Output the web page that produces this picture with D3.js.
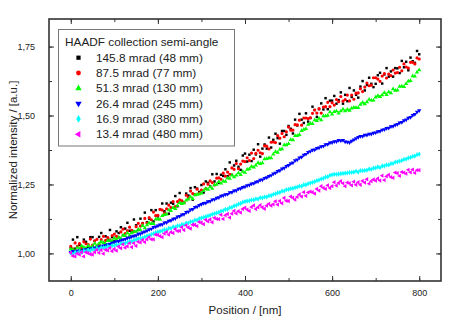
<!DOCTYPE html>
<html><head><meta charset="utf-8">
<script src="https://cdn.jsdelivr.net/npm/d3@7"></script>
<style>body{margin:0;background:#fff}svg{display:block;font-family:"Liberation Sans",Arial,sans-serif}</style>
</head><body>
<svg id="c" width="469" height="329"></svg>
<script>
const positions = d3.range(0, 805, 5);
const seriesNames = ["145.8 mrad (48 mm)","87.5 mrad (77 mm)","51.3 mrad (130 mm)","26.4 mrad (245 mm)","16.9 mrad (380 mm)","13.4 mrad (480 mm)"];
const seriesColors = ["#000000","#ff0000","#00ff00","#0000ff","#00ffff","#ff00ff"];
const xTicks = [0,200,400,600,800];
const yTicks = [1.00,1.25,1.50,1.75];

const black = [1.020,1.050,1.017,1.059,1.031,1.015,1.050,1.042,1.024,1.059,
1.059,1.045,1.025,1.060,1.074,1.038,1.062,1.048,1.085,1.059,
1.045,1.080,1.074,1.095,1.066,1.090,1.111,1.082,1.077,1.123,
1.102,1.085,1.126,1.109,1.148,1.113,1.126,1.157,1.116,1.157,
1.134,1.160,1.181,1.153,1.181,1.144,1.184,1.180,1.208,1.171,
1.219,1.190,1.184,1.217,1.210,1.237,1.195,1.240,1.235,1.223,
1.248,1.221,1.261,1.256,1.244,1.287,1.261,1.288,1.256,1.285,
1.281,1.305,1.280,1.330,1.285,1.319,1.336,1.314,1.303,1.355,
1.362,1.333,1.358,1.335,1.376,1.359,1.396,1.351,1.380,1.395,
1.380,1.420,1.384,1.412,1.434,1.418,1.398,1.444,1.444,1.430,
1.462,1.452,1.435,1.485,1.464,1.506,1.485,1.473,1.508,1.478,
1.491,1.532,1.520,1.495,1.523,1.544,1.522,1.563,1.523,1.554,
1.554,1.571,1.543,1.556,1.584,1.543,1.575,1.552,1.600,1.567,
1.591,1.575,1.565,1.605,1.625,1.591,1.611,1.637,1.615,1.603,
1.615,1.646,1.655,1.616,1.649,1.672,1.641,1.660,1.641,1.672,
1.671,1.654,1.698,1.675,1.695,1.664,1.710,1.697,1.691,1.734,
1.722];
const red = [1.026,1.017,1.038,1.026,1.036,1.020,1.042,1.035,1.032,1.052,
1.030,1.046,1.051,1.033,1.050,1.062,1.047,1.057,1.049,1.065,
1.070,1.062,1.058,1.078,1.088,1.072,1.082,1.095,1.084,1.079,
1.097,1.109,1.099,1.109,1.127,1.110,1.130,1.122,1.150,1.137,
1.138,1.160,1.157,1.146,1.162,1.175,1.166,1.188,1.170,1.188,
1.194,1.191,1.184,1.211,1.203,1.226,1.217,1.213,1.233,1.219,
1.230,1.252,1.235,1.251,1.263,1.257,1.248,1.273,1.274,1.269,
1.291,1.280,1.295,1.287,1.310,1.305,1.326,1.307,1.324,1.335,
1.333,1.347,1.337,1.364,1.344,1.363,1.374,1.365,1.362,1.390,
1.389,1.379,1.403,1.404,1.402,1.427,1.418,1.435,1.423,1.441,
1.458,1.447,1.447,1.467,1.466,1.483,1.465,1.491,1.491,1.489,
1.492,1.508,1.520,1.509,1.525,1.509,1.531,1.532,1.548,1.532,
1.546,1.538,1.558,1.550,1.569,1.552,1.558,1.574,1.553,1.574,
1.559,1.581,1.582,1.597,1.587,1.603,1.618,1.608,1.610,1.637,
1.637,1.632,1.624,1.643,1.652,1.636,1.650,1.645,1.665,1.654,
1.656,1.675,1.662,1.687,1.676,1.672,1.693,1.693,1.687,1.709,
1.705];
const green = [1.015,1.013,1.009,1.021,1.016,1.027,1.022,1.019,1.028,1.021,
1.026,1.036,1.028,1.036,1.042,1.039,1.034,1.046,1.047,1.045,
1.055,1.050,1.058,1.054,1.066,1.064,1.074,1.065,1.074,1.079,
1.079,1.087,1.085,1.100,1.092,1.103,1.110,1.108,1.108,1.124,
1.125,1.123,1.137,1.140,1.142,1.157,1.155,1.166,1.162,1.174,
1.184,1.180,1.183,1.193,1.196,1.205,1.198,1.212,1.214,1.215,
1.218,1.227,1.235,1.232,1.241,1.235,1.248,1.250,1.260,1.254,
1.262,1.261,1.273,1.272,1.283,1.277,1.283,1.292,1.285,1.297,
1.293,1.304,1.306,1.315,1.312,1.320,1.329,1.325,1.328,1.342,
1.343,1.346,1.346,1.360,1.369,1.366,1.377,1.379,1.393,1.393,
1.398,1.412,1.411,1.427,1.427,1.430,1.445,1.449,1.452,1.467,
1.471,1.470,1.484,1.481,1.489,1.484,1.498,1.498,1.500,1.513,
1.505,1.514,1.516,1.508,1.516,1.523,1.516,1.522,1.518,1.526,
1.529,1.528,1.528,1.540,1.547,1.542,1.549,1.558,1.555,1.555,
1.566,1.572,1.568,1.574,1.583,1.575,1.585,1.582,1.596,1.591,
1.592,1.605,1.606,1.604,1.615,1.624,1.626,1.643,1.642,1.657,
1.665];
const blue = [1.004,1.008,1.005,1.009,1.010,1.008,1.013,1.014,1.012,1.017,
1.018,1.021,1.019,1.024,1.025,1.028,1.029,1.032,1.034,1.038,
1.040,1.043,1.044,1.047,1.050,1.051,1.056,1.057,1.061,1.063,
1.065,1.070,1.071,1.076,1.079,1.082,1.087,1.089,1.095,1.097,
1.100,1.104,1.105,1.111,1.112,1.118,1.119,1.125,1.127,1.133,
1.135,1.140,1.142,1.149,1.151,1.158,1.160,1.167,1.169,1.175,
1.178,1.182,1.183,1.188,1.189,1.195,1.196,1.201,1.203,1.208,
1.210,1.214,1.215,1.221,1.222,1.227,1.228,1.234,1.235,1.240,
1.242,1.246,1.248,1.253,1.254,1.259,1.261,1.266,1.267,1.273,
1.275,1.280,1.283,1.289,1.292,1.298,1.301,1.307,1.310,1.316,
1.320,1.326,1.329,1.337,1.340,1.347,1.350,1.357,1.360,1.367,
1.370,1.375,1.376,1.381,1.383,1.388,1.389,1.395,1.396,1.401,
1.402,1.406,1.406,1.410,1.409,1.410,1.405,1.404,1.402,1.408,
1.412,1.417,1.421,1.425,1.425,1.429,1.429,1.433,1.433,1.437,
1.438,1.442,1.443,1.448,1.449,1.454,1.455,1.460,1.461,1.466,
1.468,1.474,1.476,1.482,1.485,1.491,1.494,1.501,1.505,1.513,
1.518];
const cyan = [1.001,0.997,1.004,1.001,1.007,1.004,1.010,1.007,1.013,1.010,
1.016,1.012,1.019,1.016,1.021,1.021,1.020,1.026,1.023,1.028,
1.028,1.032,1.029,1.036,1.036,1.037,1.040,1.044,1.044,1.048,
1.050,1.053,1.055,1.056,1.060,1.064,1.065,1.069,1.072,1.076,
1.078,1.080,1.082,1.086,1.085,1.091,1.091,1.096,1.095,1.100,
1.100,1.105,1.104,1.110,1.110,1.115,1.115,1.121,1.121,1.126,
1.128,1.131,1.133,1.136,1.138,1.142,1.144,1.147,1.149,1.153,
1.155,1.160,1.160,1.166,1.167,1.172,1.174,1.179,1.181,1.186,
1.188,1.190,1.191,1.194,1.194,1.198,1.197,1.202,1.201,1.205,
1.205,1.209,1.210,1.214,1.216,1.220,1.221,1.226,1.226,1.231,
1.232,1.235,1.236,1.239,1.240,1.244,1.244,1.249,1.249,1.253,
1.255,1.258,1.260,1.264,1.266,1.270,1.272,1.277,1.278,1.283,
1.285,1.287,1.287,1.288,1.289,1.290,1.291,1.292,1.293,1.294,
1.295,1.298,1.295,1.300,1.300,1.301,1.302,1.306,1.305,1.309,
1.310,1.314,1.311,1.317,1.317,1.321,1.321,1.326,1.326,1.331,
1.332,1.335,1.337,1.341,1.342,1.346,1.348,1.352,1.353,1.358,
1.360];
const magenta = [1.002,0.991,0.989,1.000,0.996,1.005,0.989,1.004,1.001,0.997,
0.996,1.005,1.013,1.002,1.012,0.999,1.013,1.011,1.020,1.008,
1.016,1.010,1.025,1.019,1.033,1.021,1.026,1.037,1.023,1.037,
1.027,1.042,1.040,1.049,1.041,1.051,1.059,1.051,1.051,1.068,
1.067,1.063,1.059,1.072,1.078,1.068,1.077,1.074,1.088,1.081,
1.082,1.095,1.085,1.102,1.094,1.090,1.104,1.104,1.099,1.114,
1.112,1.106,1.122,1.116,1.123,1.113,1.129,1.125,1.124,1.140,
1.125,1.138,1.143,1.130,1.144,1.154,1.145,1.153,1.148,1.161,
1.166,1.159,1.154,1.168,1.174,1.161,1.167,1.175,1.167,1.162,
1.173,1.180,1.173,1.178,1.189,1.177,1.190,1.182,1.201,1.191,
1.190,1.206,1.202,1.195,1.205,1.214,1.206,1.222,1.209,1.221,
1.224,1.222,1.217,1.234,1.228,1.244,1.238,1.234,1.247,1.237,
1.244,1.258,1.246,1.255,1.262,1.254,1.244,1.257,1.254,1.247,
1.260,1.249,1.258,1.249,1.263,1.257,1.269,1.253,1.262,1.268,
1.264,1.272,1.264,1.282,1.266,1.279,1.285,1.277,1.274,1.293,
1.291,1.281,1.295,1.293,1.289,1.303,1.294,1.304,1.292,1.302,
1.302];

const seriesValues = [black, red, green, blue, cyan, magenta];
const symbolTypes = [d3.symbolSquare, d3.symbolCircle, d3.symbolTriangle, "down", d3.symbolDiamond, "left"];

const svg = d3.select("#c");
const L = 49, R = 441, T = 19, B = 281;
const x = d3.scaleLinear().domain([-50, 850]).range([L, R]);
const y = d3.scaleLinear().domain([0.9, 1.85]).range([B, T]);

function symPath(i, size) {
  const t = symbolTypes[i];
  if (t === "down") return { d: d3.symbol(d3.symbolTriangle, size)(), rot: 180 };
  if (t === "left") return { d: d3.symbol(d3.symbolTriangle, size)(), rot: -90 };
  return { d: d3.symbol(t, size)(), rot: 0 };
}

const plot = svg.append("g");
seriesValues.forEach((vals, i) => {
  const sp = symPath(i, i === 0 ? 6 : 8);
  plot.append("g").selectAll("path").data(vals).join("path")
    .attr("d", sp.d)
    .attr("transform", (v, k) => `translate(${x(positions[k])},${y(v)}) rotate(${sp.rot})`)
    .attr("fill", seriesColors[i]);
});

const axCol = "#333";
function drawAxis(axisGen, tx, ty) {
  const g = svg.append("g").attr("transform", `translate(${tx},${ty})`).call(axisGen);
  g.select(".domain").remove();
  g.selectAll("line").attr("stroke", axCol).attr("stroke-width", 1);
  return g;
}
const xMinor = d3.range(0, 900, 100);
const yMinor = d3.range(1.0, 1.85, 0.125);
drawAxis(d3.axisTop(x).tickValues(xMinor).tickSize(3).tickFormat(""), 0, B);
drawAxis(d3.axisTop(x).tickValues(xTicks).tickSize(5).tickFormat(""), 0, B);
const bx = svg.append("g").attr("transform", `translate(0,${B})`)
  .call(d3.axisBottom(x).tickValues(xTicks).tickSize(0).tickPadding(9).tickFormat(d3.format("d")));
bx.select(".domain").remove();
bx.selectAll("text").attr("font-size", 9).attr("fill", "#222").attr("font-family", "Liberation Sans, Arial, sans-serif");
drawAxis(d3.axisBottom(x).tickValues(xMinor).tickSize(3).tickFormat(""), 0, T);
drawAxis(d3.axisBottom(x).tickValues(xTicks).tickSize(5).tickFormat(""), 0, T);
drawAxis(d3.axisRight(y).tickValues(yMinor).tickSize(3).tickFormat(""), L, 0);
drawAxis(d3.axisRight(y).tickValues(yTicks).tickSize(5).tickFormat(""), L, 0);
const ly = svg.append("g").attr("transform", `translate(${L},0)`)
  .call(d3.axisLeft(y).tickValues(yTicks).tickSize(0).tickPadding(14).tickFormat(d => d3.format(".2f")(d).replace(".", ",")));
ly.select(".domain").remove();
ly.selectAll("text").attr("font-size", 9).attr("fill", "#222").attr("font-family", "Liberation Sans, Arial, sans-serif");
drawAxis(d3.axisLeft(y).tickValues(yMinor).tickSize(3).tickFormat(""), R, 0);
drawAxis(d3.axisLeft(y).tickValues(yTicks).tickSize(5).tickFormat(""), R, 0);

svg.append("rect").attr("x", L).attr("y", T).attr("width", R - L).attr("height", B - T)
  .attr("fill", "none").attr("stroke", axCol).attr("stroke-width", 1.6);

svg.append("text").attr("x", (L + R) / 2).attr("y", 314).attr("text-anchor", "middle")
  .attr("font-size", 11.5).attr("fill", "#222").text("Position / [nm]");
svg.append("text").attr("transform", "translate(17,150) rotate(-90)").attr("text-anchor", "middle")
  .attr("font-size", 11.5).attr("fill", "#222").text("Normalized intensity / [a.u.]");

const lg = svg.append("g");
lg.append("rect").attr("x", 58.5).attr("y", 29.5).attr("width", 176).attr("height", 116.5)
  .attr("fill", "#fff").attr("stroke", "#777").attr("stroke-width", 1);
lg.append("text").attr("x", 65).attr("y", 46).attr("font-size", 11.8).attr("fill", "#222")
  .text("HAADF collection semi-angle");
seriesNames.forEach((name, i) => {
  const cy = 57.7 + i * 15.3;
  const sp = symPath(i, 18);
  lg.append("path").attr("d", sp.d)
    .attr("transform", `translate(78.5,${cy}) rotate(${sp.rot})`).attr("fill", seriesColors[i]);
  lg.append("text").attr("x", 96).attr("y", cy + 4).attr("font-size", 11.8).attr("fill", "#222").text(name);
});
</script>
</body></html>
